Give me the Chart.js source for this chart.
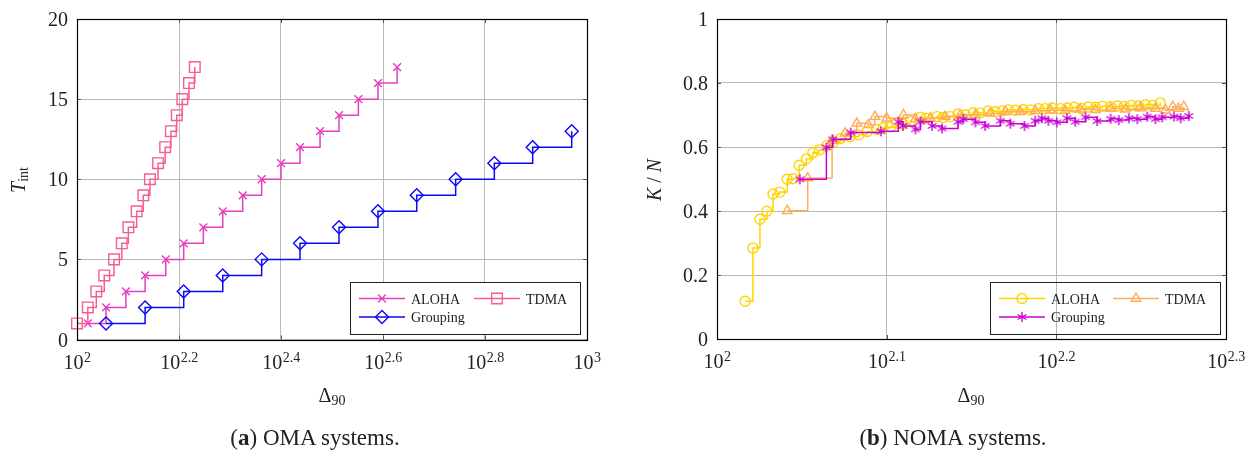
<!DOCTYPE html>
<html><head><meta charset="utf-8">
<script src="https://cdn.jsdelivr.net/npm/chart.js@4/dist/chart.umd.min.js"></script>
<style>
html,body{margin:0;padding:0;background:#fff;}
body{width:1253px;height:459px;overflow:hidden;position:relative;font-family:"Liberation Serif",serif;color:#222;}
canvas{position:absolute;top:0;}
.t{position:absolute;font-size:20px;line-height:20px;white-space:nowrap;text-align:center;}
.t .s{font-size:14px;position:relative;top:3px;}
.rot{transform:rotate(-90deg);transform-origin:50% 50%;}
.cap{font-size:23px;line-height:24px;}
</style></head>
<body>
<canvas id="c1" width="626" height="459" style="left:0"></canvas>
<canvas id="c2" width="627" height="459" style="left:626px"></canvas>
<div class="t" style="left:282px;top:385px;width:100px;">Δ<span class="s">90</span></div>
<div class="t" style="left:921px;top:385px;width:100px;">Δ<span class="s">90</span></div>
<div class="t rot" style="left:-32px;top:170px;width:100px;height:20px;"><i>T</i><span class="s">int</span></div>
<div class="t rot" style="left:604px;top:170px;width:100px;height:20px;"><i>K</i> / <i>N</i></div>
<div class="t cap" style="left:165px;top:426px;width:300px;">(<b>a</b>) OMA systems.</div>
<div class="t cap" style="left:803px;top:426px;width:300px;">(<b>b</b>) NOMA systems.</div>
<script>
// ---------- data: (a) OMA systems ----------
const omaXTickExp = [2, 2.2, 2.4, 2.6, 2.8, 3];
const omaYTicks = [0, 5, 10, 15, 20];
const omaAlohaDelta = [105, 114, 124.7, 136, 149.3, 161.9, 176.9, 193.1, 211.3, 230.2, 251.2, 273.7, 299.6, 326.4, 356.2, 389.2, 424.3];
const omaAlohaT = [1, 2, 3, 4, 5, 6, 7, 8, 9, 10, 11, 12, 13, 14, 15, 16, 17];
const omaTdmaDelta = [100, 105, 109.1, 113.1, 118.2, 122.4, 126.1, 130.9, 134.9, 139, 144.2, 148.9, 152.8, 156.9, 160.9, 165.8, 170.2];
const omaTdmaT = [1, 2, 3, 4, 5, 6, 7, 8, 9, 10, 11, 12, 13, 14, 15, 16, 17];
const omaGroupDelta = [114, 136, 161.9, 193.1, 230.2, 273.7, 326.4, 389.2, 463.6, 552.7, 658.1, 782.5, 933.3];
const omaGroupT = [1, 2, 3, 4, 5, 6, 7, 8, 9, 10, 11, 12, 13];

// ---------- data: (b) NOMA systems ----------
const nomaXTickExp = [2, 2.1, 2.2, 2.3];
const nomaYTicks = [0, 0.2, 0.4, 0.6, 0.8, 1];
const nomaAlohaDelta = [103.9, 105.0, 106.0, 107.0, 107.9, 108.9, 110.0, 110.9, 111.8, 112.9, 113.9, 114.9, 116.1, 117.1, 118.2, 119.8, 121.2, 122.6, 124.2, 125.3, 126.5, 127.6, 128.7, 130.0, 131.8, 132.8, 134.8, 135.9, 137.2, 138.7, 140.1, 141.6, 142.9, 144.5, 145.9, 147.3, 148.5, 149.9, 151.5, 153.0, 154.7, 156.1, 157.6, 159.4, 160.9, 162.4, 164.0, 165.5, 167.1, 168.7, 170.6, 172.2, 173.8, 175.5, 177.2, 178.9, 180.6, 182.5];
const nomaAlohaKN = [0.118, 0.284, 0.374, 0.399, 0.453, 0.459, 0.499, 0.501, 0.543, 0.563, 0.582, 0.591, 0.605, 0.616, 0.626, 0.632, 0.638, 0.648, 0.655, 0.66, 0.662, 0.674, 0.672, 0.68, 0.693, 0.69, 0.695, 0.692, 0.695, 0.703, 0.70, 0.707, 0.706, 0.713, 0.71, 0.713, 0.716, 0.715, 0.717, 0.716, 0.72, 0.72, 0.722, 0.72, 0.722, 0.724, 0.72, 0.725, 0.724, 0.727, 0.726, 0.728, 0.727, 0.73, 0.728, 0.732, 0.73, 0.738];
const nomaTdmaDelta = [110.0, 113.1, 116.9, 119.0, 120.9, 122.8, 123.9, 125.9, 128.8, 130.9, 133.6, 136.3, 139.1, 142.0, 144.9, 147.9, 150.9, 154.0, 157.2, 160.4, 163.7, 167.1, 170.6, 174.1, 177.6, 181.3, 183.8, 185.6, 187.1, 188.4];
const nomaTdmaKN = [0.401, 0.503, 0.62, 0.643, 0.674, 0.669, 0.695, 0.69, 0.70, 0.688, 0.69, 0.695, 0.70, 0.70, 0.705, 0.71, 0.71, 0.713, 0.715, 0.713, 0.718, 0.716, 0.72, 0.718, 0.722, 0.72, 0.715, 0.726, 0.72, 0.726];
const nomaGroupDelta = [111.9, 116.0, 117.0, 119.9, 124.9, 127.9, 128.7, 130.9, 131.8, 133.9, 135.7, 138.7, 139.7, 142.0, 143.9, 146.9, 148.9, 151.8, 154.0, 155.4, 156.8, 158.6, 160.8, 162.6, 164.9, 167.5, 170.6, 172.5, 174.9, 176.9, 179.3, 181.3, 183.0, 185.9, 187.6, 189.7];
const nomaGroupKN = [0.499, 0.599, 0.624, 0.645, 0.649, 0.679, 0.666, 0.655, 0.679, 0.666, 0.658, 0.679, 0.687, 0.677, 0.666, 0.682, 0.673, 0.666, 0.682, 0.69, 0.682, 0.677, 0.69, 0.679, 0.693, 0.681, 0.688, 0.684, 0.69, 0.687, 0.695, 0.687, 0.693, 0.695, 0.69, 0.697];

const seriesNames = ['ALOHA', 'TDMA', 'Grouping'];

// ---------- helpers ----------
const FONT = '"Liberation Serif", serif';
const TEXT = '#222';
const GRID = '#b8b8b8';
function pts(xs, ys) { return xs.map((x, i) => ({ x: x, y: ys[i] })); }
function asterisk(color, r, lw) {
  const c = document.createElement('canvas');
  const s = Math.ceil(2 * r + 4); c.width = s; c.height = s;
  const g = c.getContext('2d'); g.strokeStyle = color; g.lineWidth = lw; g.lineCap = 'butt';
  const cx = s / 2, cy = s / 2;
  [90, 30, 150].forEach(a => {
    const t = a * Math.PI / 180, dx = Math.cos(t) * r, dy = Math.sin(t) * r;
    g.beginPath(); g.moveTo(cx - dx, cy - dy); g.lineTo(cx + dx, cy + dy); g.stroke();
  });
  return c;
}
function ds(label, xs, ys, color, style, r, order) {
  return {
    label: label, data: pts(xs, ys), borderColor: color, backgroundColor: 'rgba(0,0,0,0)',
    pointBorderColor: color, pointBackgroundColor: 'rgba(0,0,0,0)', pointStyle: style,
    pointRadius: r, pointBorderWidth: 1.4, borderWidth: 1.5, stepped: 'before',
    clip: false, order: order, fill: false, tension: 0
  };
}
function drawMarker(ctx, d, x, y) {
  ctx.save();
  ctx.strokeStyle = d.pointBorderColor; ctx.fillStyle = 'rgba(0,0,0,0)'; ctx.lineWidth = d.pointBorderWidth;
  Chart.helpers.drawPoint(ctx, { pointStyle: d.pointStyle, radius: d.pointRadius, borderWidth: d.pointBorderWidth, rotation: 0 }, x, y);
  ctx.restore();
}
function decorPlugin(xExps, yTicks, yFmt, legend) {
  return {
    id: 'decor',
    afterDatasetsDraw(chart) {
      const ctx = chart.ctx, a = chart.chartArea, xs = chart.scales.x, ys = chart.scales.y;
      ctx.save();
      ctx.strokeStyle = '#555'; ctx.lineWidth = 1;
      xExps.forEach(e => {
        const px = Math.round(xs.getPixelForValue(Math.pow(10, e))) + 0.5;
        ctx.beginPath(); ctx.moveTo(px, a.bottom); ctx.lineTo(px, a.bottom - 4);
        ctx.moveTo(px, a.top); ctx.lineTo(px, a.top + 4); ctx.stroke();
      });
      yTicks.forEach(v => {
        const py = Math.round(ys.getPixelForValue(v)) + 0.5;
        ctx.beginPath(); ctx.moveTo(a.left, py); ctx.lineTo(a.left + 4, py);
        ctx.moveTo(a.right, py); ctx.lineTo(a.right - 4, py); ctx.stroke();
      });
      ctx.strokeStyle = '#000'; ctx.lineWidth = 1.2;
      ctx.strokeRect(Math.round(a.left) + 0.5, Math.round(a.top) + 0.5, Math.round(a.right - a.left), Math.round(a.bottom - a.top));
      ctx.fillStyle = TEXT; ctx.textBaseline = 'alphabetic'; ctx.textAlign = 'left';
      xExps.forEach(e => {
        const px = xs.getPixelForValue(Math.pow(10, e));
        const base = '10', sup = String(e);
        ctx.font = '20px ' + FONT; const w1 = ctx.measureText(base).width;
        ctx.font = '14px ' + FONT; const w2 = ctx.measureText(sup).width;
        const x0 = px - (w1 + w2) / 2;
        ctx.font = '20px ' + FONT; ctx.fillText(base, x0, a.bottom + 29);
        ctx.font = '14px ' + FONT; ctx.fillText(sup, x0 + w1 + 0.5, a.bottom + 22);
      });
      ctx.font = '20px ' + FONT; ctx.textAlign = 'right';
      yTicks.forEach(v => {
        const py = ys.getPixelForValue(v);
        ctx.fillText(yFmt(v), a.left - 9, py + 7);
      });
      const L = legend;
      if (L.fill) { ctx.fillStyle = '#fff'; ctx.fillRect(L.x, L.y, L.w, L.h); }
      ctx.strokeStyle = '#222'; ctx.lineWidth = 1;
      ctx.strokeRect(L.x + 0.5, L.y + 0.5, L.w, L.h);
      L.items.forEach(it => {
        const d = chart.data.datasets[it.i];
        ctx.strokeStyle = d.borderColor; ctx.lineWidth = d.borderWidth;
        ctx.beginPath(); ctx.moveTo(it.x, it.y); ctx.lineTo(it.x + 46, it.y); ctx.stroke();
        drawMarker(ctx, d, it.x + 23, it.y);
        ctx.fillStyle = TEXT; ctx.font = '14px ' + FONT; ctx.textAlign = 'left';
        ctx.fillText(d.label, it.x + 52, it.y + 5);
      });
      ctx.restore();
    }
  };
}
function makeChart(id, datasets, xMax, yMax, xExps, yTicks, yFmt, pad, legend) {
  return new Chart(document.getElementById(id), {
    type: 'line',
    data: { datasets: datasets },
    options: {
      responsive: false, animation: false, devicePixelRatio: 1, events: [],
      layout: { padding: pad },
      plugins: { legend: { display: false }, tooltip: { enabled: false } },
      scales: {
        x: {
          type: 'logarithmic', min: 100, max: xMax,
          afterBuildTicks: s => { s.ticks = xExps.map(e => ({ value: Math.pow(10, e) })); },
          ticks: { display: false },
          grid: { color: GRID, lineWidth: 1, drawTicks: false },
          border: { display: false }
        },
        y: {
          type: 'linear', min: 0, max: yMax,
          afterBuildTicks: s => { s.ticks = yTicks.map(v => ({ value: v })); },
          ticks: { display: false },
          grid: { color: GRID, lineWidth: 1, drawTicks: false },
          border: { display: false }
        }
      }
    },
    plugins: [decorPlugin(xExps, yTicks, yFmt, legend)]
  });
}

makeChart('c1', [
  ds(seriesNames[0], omaAlohaDelta, omaAlohaT, 'rgb(232,60,190)', 'crossRot', 5.5, 3),
  ds(seriesNames[1], omaTdmaDelta, omaTdmaT, 'rgb(245,95,140)', 'rect', 7.5, 2),
  ds(seriesNames[2], omaGroupDelta, omaGroupT, 'rgb(10,10,245)', 'rectRot', 6.5, 1)
], 1000, 20, omaXTickExp, omaYTicks, v => String(v),
  { left: 77, top: 19, right: 39, bottom: 119.5 },
  { x: 350, y: 282, w: 230, h: 52, fill: true, items: [{ i: 0, x: 359, y: 298.5 }, { i: 1, x: 474, y: 298.5 }, { i: 2, x: 359, y: 317 }] });

const starColor = 'rgb(200,0,210)';
makeChart('c2', [
  ds(seriesNames[0], nomaAlohaDelta, nomaAlohaKN, 'rgb(255,212,0)', 'circle', 5, 3),
  ds(seriesNames[1], nomaTdmaDelta, nomaTdmaKN, 'rgb(255,172,85)', 'triangle', 5.5, 2),
  ds(seriesNames[2], nomaGroupDelta, nomaGroupKN, starColor, asterisk(starColor, 5, 1.4), 5, 1)
], Math.pow(10, 2.3), 1, nomaXTickExp, nomaYTicks, v => (v === 0 || v === 1) ? String(v) : v.toFixed(1),
  { left: 91, top: 19, right: 27, bottom: 120 },
  { x: 364, y: 282, w: 230, h: 52, fill: false, items: [{ i: 0, x: 373, y: 298.5 }, { i: 1, x: 487, y: 298.5 }, { i: 2, x: 373, y: 317 }] });
</script>
</body></html>
